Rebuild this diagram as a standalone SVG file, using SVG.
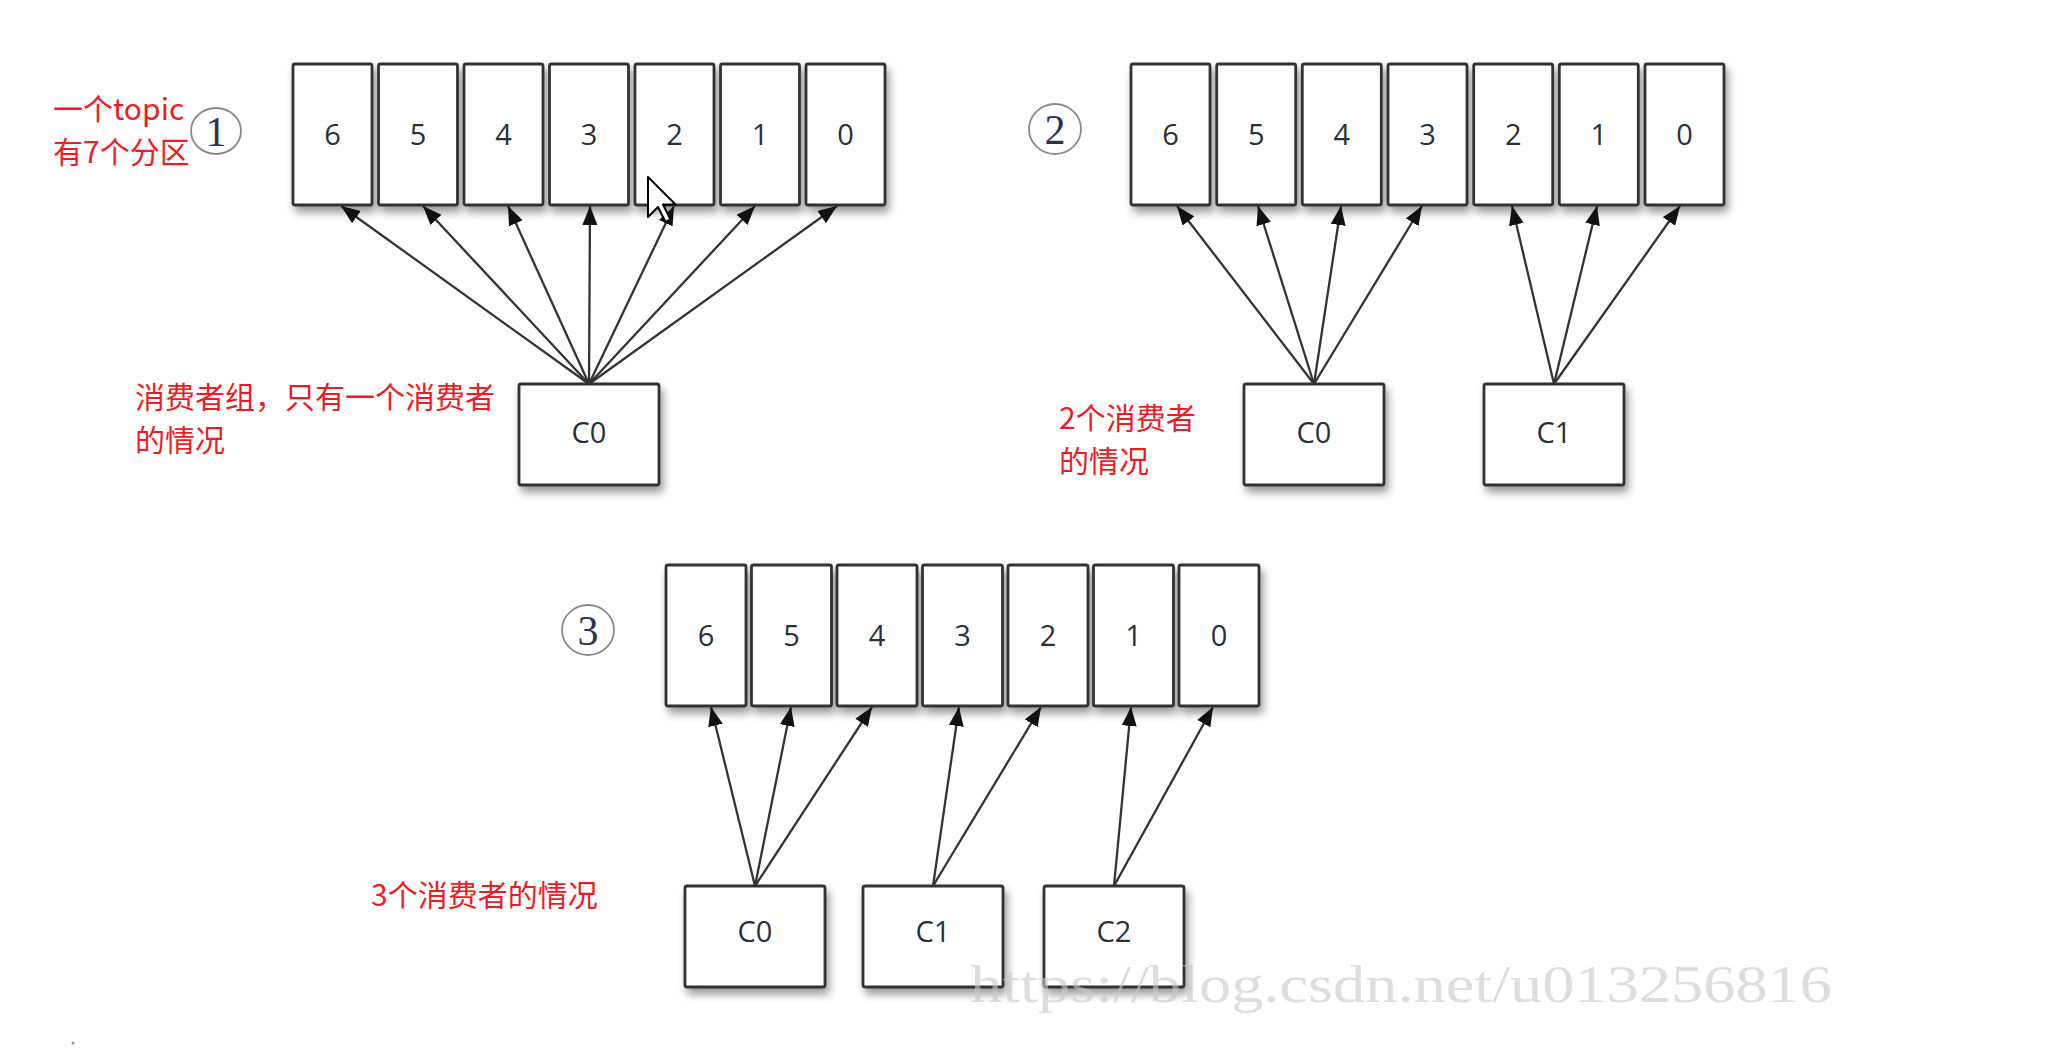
<svg xmlns="http://www.w3.org/2000/svg" width="2070" height="1062" viewBox="0 0 2070 1062">
<style>
.box{fill:#ffffff;stroke:#333333;stroke-width:2.8;filter:url(#sh)}
.num{font-family:"Open Sans","DejaVu Sans",sans-serif;font-size:29px;fill:#2a303a;text-anchor:middle}
.red{font-family:"Noto Sans CJK SC","Noto Sans",sans-serif;font-size:30px;fill:#ec1c24}
.circ{fill:none;stroke:#8a8a8a;stroke-width:1.8}
.cnum{font-family:"Liberation Serif",serif;font-size:42px;fill:#2a3350;text-anchor:middle}
.conn line{stroke:#333;stroke-width:2.3;marker-end:url(#ah)}
.wm{font-family:"Liberation Serif",serif;font-size:52px;fill:#c8c8c8;opacity:0.6}
</style>
<defs>
<filter id="sh" x="-20%" y="-20%" width="150%" height="150%">
<feDropShadow dx="3" dy="6" stdDeviation="4" flood-color="#000" flood-opacity="0.4"/>
</filter>
<marker id="ah" markerUnits="userSpaceOnUse" markerWidth="22" markerHeight="16" refX="19" refY="7.5" orient="auto">
<path d="M0,0 L19,7.5 L0,15 z" fill="#111"/>
</marker>
</defs>
<rect width="2070" height="1062" fill="#ffffff"/>

<!-- Panel 1 -->
<g id="label1">
<text class="red" x="53" y="120">一个topic</text>
<text class="red" x="53" y="163">有7个分区</text>
<ellipse class="circ" cx="216" cy="131" rx="25" ry="23"/>
<text class="cnum" x="216" y="146">1</text>
</g>
<g id="p1-partitions">
<g id="p1-6"><rect class="box" x="293" y="64" width="79" height="141" rx="2"/><text class="num" x="332.5" y="145">6</text></g>
<g id="p1-5"><rect class="box" x="378.5" y="64" width="79" height="141" rx="2"/><text class="num" x="418" y="145">5</text></g>
<g id="p1-4"><rect class="box" x="464" y="64" width="79" height="141" rx="2"/><text class="num" x="503.5" y="145">4</text></g>
<g id="p1-3"><rect class="box" x="549.5" y="64" width="79" height="141" rx="2"/><text class="num" x="589" y="145">3</text></g>
<g id="p1-2"><rect class="box" x="635" y="64" width="79" height="141" rx="2"/><text class="num" x="674.5" y="145">2</text></g>
<g id="p1-1"><rect class="box" x="720.5" y="64" width="79" height="141" rx="2"/><text class="num" x="760" y="145">1</text></g>
<g id="p1-0"><rect class="box" x="806" y="64" width="79" height="141" rx="2"/><text class="num" x="845.5" y="145">0</text></g>
</g>
<g id="p1-c0"><rect class="box" x="519" y="384" width="140" height="101" rx="2"/><text class="num" x="589" y="443">C0</text></g>
<g id="note1">
<text class="red" x="135" y="408">消费者组，只有一个消费者</text>
<text class="red" x="135" y="451">的情况</text>
</g>

<!-- Panel 2 -->
<g id="label2">
<ellipse class="circ" cx="1055" cy="129" rx="26" ry="25"/>
<text class="cnum" x="1055" y="144">2</text>
</g>
<g id="p2-partitions">
<g id="p2-6"><rect class="box" x="1131" y="64" width="79" height="141" rx="2"/><text class="num" x="1170.5" y="145">6</text></g>
<g id="p2-5"><rect class="box" x="1216.7" y="64" width="79" height="141" rx="2"/><text class="num" x="1256.2" y="145">5</text></g>
<g id="p2-4"><rect class="box" x="1302.3" y="64" width="79" height="141" rx="2"/><text class="num" x="1341.8" y="145">4</text></g>
<g id="p2-3"><rect class="box" x="1388" y="64" width="79" height="141" rx="2"/><text class="num" x="1427.5" y="145">3</text></g>
<g id="p2-2"><rect class="box" x="1473.7" y="64" width="79" height="141" rx="2"/><text class="num" x="1513.2" y="145">2</text></g>
<g id="p2-1"><rect class="box" x="1559.3" y="64" width="79" height="141" rx="2"/><text class="num" x="1598.8" y="145">1</text></g>
<g id="p2-0"><rect class="box" x="1645" y="64" width="79" height="141" rx="2"/><text class="num" x="1684.5" y="145">0</text></g>
</g>
<g id="p2-c0"><rect class="box" x="1244" y="384" width="140" height="101" rx="2"/><text class="num" x="1314" y="443">C0</text></g>
<g id="p2-c1"><rect class="box" x="1484" y="384" width="140" height="101" rx="2"/><text class="num" x="1554" y="443">C1</text></g>
<g id="note2">
<text class="red" x="1059" y="429">2个消费者</text>
<text class="red" x="1059" y="472">的情况</text>
</g>

<!-- Panel 3 -->
<g id="label3">
<ellipse class="circ" cx="588" cy="630" rx="26" ry="25"/>
<text class="cnum" x="588" y="645">3</text>
</g>
<g id="p3-partitions">
<g id="p3-6"><rect class="box" x="666" y="565" width="80" height="141" rx="2"/><text class="num" x="706" y="646">6</text></g>
<g id="p3-5"><rect class="box" x="751.5" y="565" width="80" height="141" rx="2"/><text class="num" x="791.5" y="646">5</text></g>
<g id="p3-4"><rect class="box" x="837" y="565" width="80" height="141" rx="2"/><text class="num" x="877" y="646">4</text></g>
<g id="p3-3"><rect class="box" x="922.5" y="565" width="80" height="141" rx="2"/><text class="num" x="962.5" y="646">3</text></g>
<g id="p3-2"><rect class="box" x="1008" y="565" width="80" height="141" rx="2"/><text class="num" x="1048" y="646">2</text></g>
<g id="p3-1"><rect class="box" x="1093.5" y="565" width="80" height="141" rx="2"/><text class="num" x="1133.5" y="646">1</text></g>
<g id="p3-0"><rect class="box" x="1179" y="565" width="80" height="141" rx="2"/><text class="num" x="1219" y="646">0</text></g>
</g>
<g id="p3-c0"><rect class="box" x="685" y="886" width="140" height="101" rx="2"/><text class="num" x="755" y="942">C0</text></g>
<g id="p3-c1"><rect class="box" x="863" y="886" width="140" height="101" rx="2"/><text class="num" x="933" y="942">C1</text></g>
<g id="p3-c2"><rect class="box" x="1044" y="886" width="140" height="101" rx="2"/><text class="num" x="1114" y="942">C2</text></g>
<g id="note3">
<text class="red" x="371" y="906">3个消费者的情况</text>
</g>

<!-- Connectors -->
<g id="connectors" class="conn">
<line x1="589" y1="384" x2="341" y2="206"/>
<line x1="589" y1="384" x2="423" y2="206"/>
<line x1="589" y1="384" x2="508" y2="206"/>
<line x1="589" y1="384" x2="590" y2="206"/>
<line x1="589" y1="384" x2="674" y2="206"/>
<line x1="589" y1="384" x2="755" y2="206"/>
<line x1="589" y1="384" x2="837" y2="206"/>
<line x1="1314" y1="384" x2="1177" y2="206"/>
<line x1="1314" y1="384" x2="1258" y2="206"/>
<line x1="1314" y1="384" x2="1341" y2="206"/>
<line x1="1314" y1="384" x2="1422" y2="206"/>
<line x1="1554" y1="384" x2="1512" y2="206"/>
<line x1="1554" y1="384" x2="1597" y2="206"/>
<line x1="1554" y1="384" x2="1680" y2="206"/>
<line x1="755" y1="886" x2="711" y2="707"/>
<line x1="755" y1="886" x2="791" y2="707"/>
<line x1="755" y1="886" x2="872" y2="707"/>
<line x1="933" y1="886" x2="959" y2="707"/>
<line x1="933" y1="886" x2="1041" y2="707"/>
<line x1="1114" y1="886" x2="1131" y2="707"/>
<line x1="1114" y1="886" x2="1213" y2="707"/>
</g>

<!-- mouse cursor -->
<path d="M648,177 L648,217 L658,207 L665.5,222 L670.5,219.5 L663,204.5 L675.5,204.5 Z" fill="#ffffff" stroke="#000" stroke-width="2" stroke-linejoin="round"/>

<!-- watermark -->
<text class="wm" x="970" y="1002" textLength="862" lengthAdjust="spacingAndGlyphs">https://blog.csdn.net/u013256816</text>
<circle cx="73" cy="1043" r="1.5" fill="#8aa0a0"/>
</svg>
